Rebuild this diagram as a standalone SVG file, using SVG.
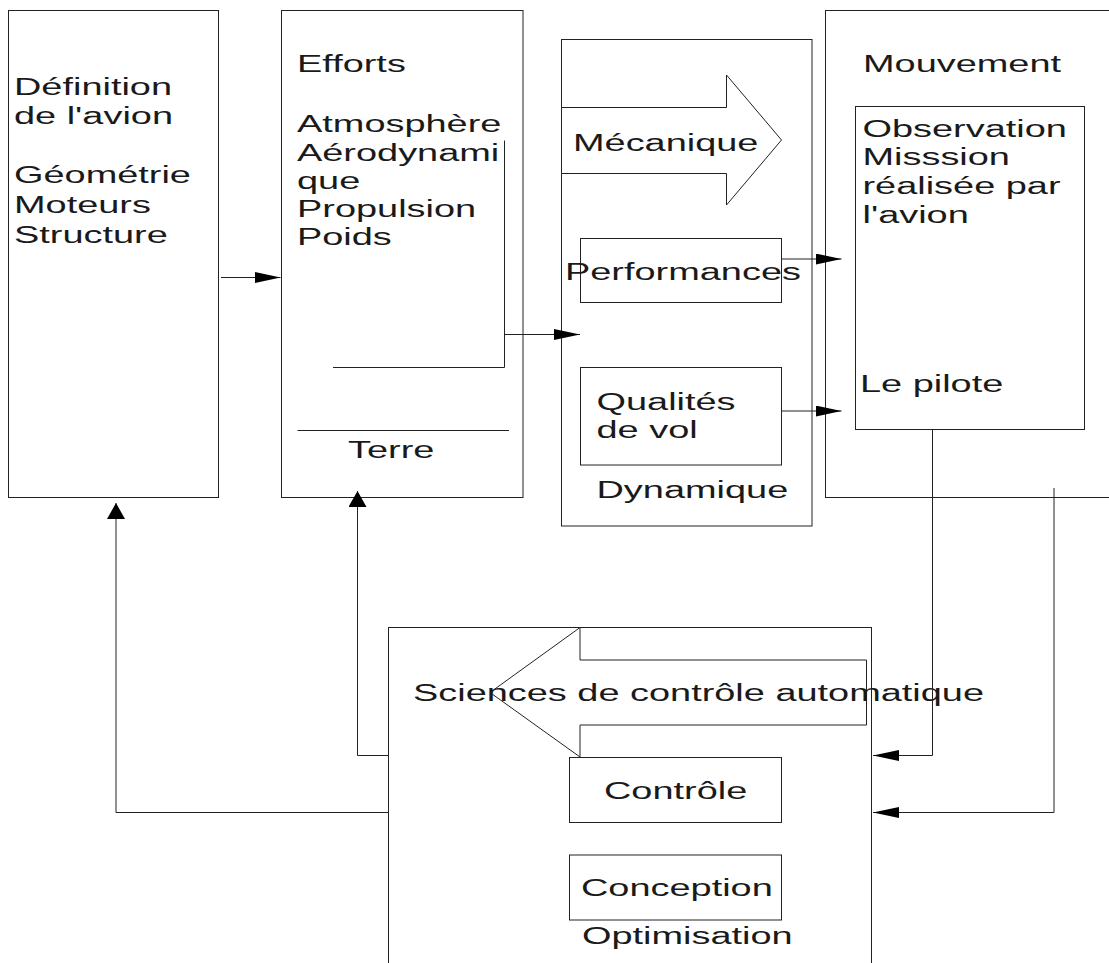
<svg xmlns="http://www.w3.org/2000/svg" width="1109" height="963" viewBox="0 0 1109 963">
<style>
  rect, polygon { fill: #fff; stroke: #222; stroke-width: 1; }
  .ln { fill: none; stroke: #222; stroke-width: 1; }
  .bg { fill: #fff; stroke: none; }
  text { font-family: "Liberation Sans", Arial, sans-serif; font-size: 24px; fill: #1a1a1a; }
</style>
<defs>
  <marker id="ah" markerUnits="userSpaceOnUse" viewBox="0 0 26 11" markerWidth="26" markerHeight="11" refX="26" refY="5.5" orient="auto">
    <path d="M0,0 L26,5.5 L0,11 z" fill="#000"/>
  </marker>
  <marker id="av" markerUnits="userSpaceOnUse" viewBox="0 0 16 18" markerWidth="16" markerHeight="18" refX="16" refY="9" orient="auto">
    <path d="M0,0 L16,9 L0,18 z" fill="#000"/>
  </marker>
</defs>
<rect class="bg" width="1109" height="963"/>

<g id="def-avion">
  <rect x="8.5" y="10.5" width="210" height="487"/>
  <text transform="translate(14,94.5) scale(1.58,1)"><tspan x="0">Définition</tspan><tspan x="0" dy="30">de l'avion</tspan><tspan x="0" dy="59">Géométrie</tspan><tspan x="0" dy="30">Moteurs</tspan><tspan x="0" dy="30">Structure</tspan></text>
</g>

<g id="efforts">
  <rect x="281.5" y="10.5" width="241.5" height="487"/>
  <text transform="translate(297,72) scale(1.58,1)"><tspan x="0">Efforts</tspan><tspan x="0" dy="60.5">Atmosphère</tspan><tspan x="0" dy="28.5">Aérodynami</tspan><tspan x="0" dy="28">que</tspan><tspan x="0" dy="28">Propulsion</tspan><tspan x="0" dy="28">Poids</tspan></text>
  <path class="ln" d="M297.5,430.5 H509"/>
  <text transform="translate(348,458) scale(1.58,1)">Terre</text>
</g>

<g id="dynamique">
  <rect x="561.5" y="39.5" width="250.5" height="486.5"/>
  <polygon points="561.5,107.5 726.5,107.5 726.5,75 781.5,140 726.5,205 726.5,173.5 561.5,173.5"/>
  <text transform="translate(573,150.5) scale(1.58,1)">Mécanique</text>
  <rect x="580.5" y="238.5" width="201" height="64"/>
  <text transform="translate(565,279.5) scale(1.58,1)">Performances</text>
  <rect x="580.5" y="367.5" width="201" height="97.5"/>
  <text transform="translate(596.5,409.5) scale(1.58,1)"><tspan x="0">Qualités</tspan><tspan x="0" dy="29">de vol</tspan></text>
  <text transform="translate(596.5,497.5) scale(1.58,1)">Dynamique</text>
</g>

<g id="mouvement">
  <rect x="825.5" y="10.5" width="300" height="487"/>
  <text transform="translate(863,72) scale(1.58,1)">Mouvement</text>
  <rect x="855.5" y="106.5" width="229" height="323"/>
  <text transform="translate(862.5,136.5) scale(1.58,1)"><tspan x="0">Observation</tspan><tspan x="0" dy="29">Misssion</tspan><tspan x="0" dy="28.5">réalisée par</tspan><tspan x="0" dy="29">l'avion</tspan></text>
  <text transform="translate(860,391.5) scale(1.58,1)">Le pilote</text>
</g>

<g id="controle-auto">
  <rect x="388.5" y="627.5" width="483" height="400"/>
  <polygon points="580,627.5 580,660 866.5,660 866.5,725 580,725 580,757 490,692.5"/>
  <text transform="translate(413,700.5) scale(1.58,1)">Sciences de contrôle automatique</text>
  <rect x="569.5" y="757.5" width="212" height="65"/>
  <text transform="translate(604,799) scale(1.58,1)">Contrôle</text>
  <rect x="569.5" y="855" width="212" height="65"/>
  <text transform="translate(581,896) scale(1.58,1)">Conception</text>
  <text transform="translate(582,944) scale(1.58,1)">Optimisation</text>
</g>

<g id="connectors">
  <path class="ln" d="M221,277.5 H280.5" marker-end="url(#ah)"/>
  <path class="ln" d="M333,367.5 H504.5 V140.5"/>
  <path class="ln" d="M504.5,334.5 H580" marker-end="url(#ah)"/>
  <path class="ln" d="M781.5,259 H841.5" marker-end="url(#ah)"/>
  <path class="ln" d="M781.5,411 H841.5" marker-end="url(#ah)"/>
  <path class="ln" d="M932.5,429.5 V755.5 H873" marker-end="url(#ah)"/>
  <path class="ln" d="M1054,488 V812.5 H873" marker-end="url(#ah)"/>
  <path class="ln" d="M388.5,755.5 H357.5 V491" marker-end="url(#av)"/>
  <path class="ln" d="M388.5,812.5 H116 V503" marker-end="url(#av)"/>
</g>
</svg>
